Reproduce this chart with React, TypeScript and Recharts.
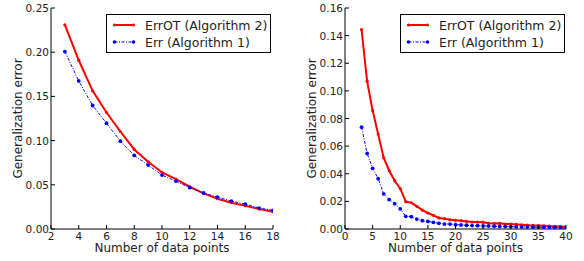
import React from "react";
import { LineChart, Line, XAxis, YAxis } from "recharts";

const nSmall = [3, 4, 5, 6, 7, 8, 9, 10, 11, 12, 13, 14, 15, 16, 17, 18];
const errOTSmall = [0.2308, 0.1909, 0.1563, 0.1318, 0.1103, 0.09, 0.0761, 0.064, 0.0565, 0.0478, 0.0403, 0.0343, 0.0297, 0.0264, 0.0226, 0.0196];
const errSmall = [0.2007, 0.1675, 0.1397, 0.1197, 0.0994, 0.0832, 0.0723, 0.061, 0.0542, 0.0467, 0.0407, 0.0361, 0.0316, 0.0282, 0.0237, 0.0211];

const nLarge = [3, 4, 5, 6, 7, 8, 9, 10, 11, 12, 13, 14, 15, 16, 17, 18, 19, 20, 21, 22, 23, 24, 25, 26, 27, 28, 29, 30, 31, 32, 33, 34, 35, 36, 37, 38, 39, 40];
const errOTLarge = [0.1443, 0.107, 0.0858, 0.0687, 0.0516, 0.0422, 0.0349, 0.0292, 0.0198, 0.019, 0.0164, 0.0137, 0.0116, 0.0099, 0.008, 0.0075, 0.0067, 0.0063, 0.006, 0.0055, 0.005, 0.005, 0.0048, 0.0041, 0.0039, 0.0041, 0.0036, 0.0036, 0.0033, 0.003, 0.0028, 0.0026, 0.0025, 0.0023, 0.0021, 0.002, 0.0018, 0.0016];
const errLarge = [0.0737, 0.0547, 0.0439, 0.0364, 0.0255, 0.0212, 0.0183, 0.0145, 0.0092, 0.0089, 0.0072, 0.006, 0.0055, 0.0048, 0.0041, 0.0036, 0.0036, 0.0031, 0.0029, 0.0027, 0.0025, 0.0024, 0.0022, 0.0021, 0.002, 0.0019, 0.0018, 0.0017, 0.0016, 0.0015, 0.0014, 0.0013, 0.0012, 0.0012, 0.0011, 0.001, 0.0009, 0.0008];

const xTicksSmall = [2, 4, 6, 8, 10, 12, 14, 16, 18];
const yTicksSmall = [0, 0.05, 0.1, 0.15, 0.2, 0.25];
const xTicksLarge = [0, 5, 10, 15, 20, 25, 30, 35, 40];
const yTicksLarge = [0, 0.02, 0.04, 0.06, 0.08, 0.1, 0.12, 0.14, 0.16];

const seriesNames = ["ErrOT (Algorithm 2)", "Err (Algorithm 1)"];
const xLabel = "Number of data points";
const yLabel = "Generalization error";

const FONT = "'DejaVu Sans', sans-serif";
const TICK = 4;
const TEXT = "#222";

const BottomTick = (props: any) => {
  const { x, y, payload } = props;
  return (
    <g>
      <line x1={x} y1={y} x2={x} y2={y - TICK} stroke="#000" strokeWidth={1} />
      <text x={x} y={y + 10.5} textAnchor="middle" fontSize={10.5} fontFamily={FONT} fill={TEXT}>
        {payload.value}
      </text>
    </g>
  );
};
const TopTick = (props: any) => {
  const { x, y } = props;
  return <line x1={x} y1={y} x2={x} y2={y + TICK} stroke="#000" strokeWidth={1} />;
};
const LeftTick = (props: any) => {
  const { x, y, payload } = props;
  return (
    <g>
      <line x1={x} y1={y} x2={x + TICK} y2={y} stroke="#000" strokeWidth={1} />
      <text x={x - 2} y={y + 4} textAnchor="end" fontSize={10.5} fontFamily={FONT} fill={TEXT}>
        {Number(payload.value).toFixed(2)}
      </text>
    </g>
  );
};
const RightTick = (props: any) => {
  const { x, y } = props;
  return <line x1={x} y1={y} x2={x - TICK} y2={y} stroke="#000" strokeWidth={1} />;
};

const YLabel = (props: any) => {
  const { viewBox } = props;
  const cx = viewBox.x + 6.5;
  const cy = viewBox.y + viewBox.height / 2;
  return (
    <text
      x={cx}
      y={cy}
      transform={`rotate(-90 ${cx} ${cy})`}
      textAnchor="middle"
      dominantBaseline="central"
      fontSize={12}
      fontFamily={FONT}
      fill={TEXT}
    >
      {yLabel}
    </text>
  );
};

const XLabel = (props: any) => {
  const { viewBox } = props;
  const cx = viewBox.x + viewBox.width / 2;
  const cy = viewBox.y + 23;
  return (
    <text x={cx} y={cy} textAnchor="middle" fontSize={12} fontFamily={FONT} fill={TEXT}>
      {xLabel}
    </text>
  );
};

const LegendBox = ({ left }: { left: number }) => (
  <div
    style={{
      position: "absolute",
      left,
      top: 14,
      border: "1px solid #000",
      background: "#fff",
      width: 163,
      height: 37,
    }}
  >
    <svg width={163} height={37} style={{ position: "absolute", left: 0, top: 0 }}>
      <line x1={7.5} y1={10} x2={26.5} y2={10} stroke="#ff0000" strokeWidth={2} />
      <circle cx={7.5} cy={10} r={1.6} fill="#ff0000" />
      <circle cx={26.5} cy={10} r={1.6} fill="#ff0000" />
      <line x1={7.5} y1={27} x2={26.5} y2={27} stroke="#0000ff" strokeWidth={1} strokeDasharray="3 1.5 1 1.5" />
      <circle cx={7.5} cy={27} r={1.8} fill="#0000ff" />
      <circle cx={26.5} cy={27} r={1.8} fill="#0000ff" />
      <text x={38} y={14.5} fontSize={12.5} fontFamily={FONT} fill={TEXT}>{seriesNames[0]}</text>
      <text x={38} y={31.5} fontSize={12.5} fontFamily={FONT} fill={TEXT}>{seriesNames[1]}</text>
    </svg>
  </div>
);

type PanelProps = {
  n: number[];
  errOT: number[];
  err: number[];
  xTicks: number[];
  yTicks: number[];
  margin: { top: number; right: number; bottom: number; left: number };
  legendLeft: number;
};

const Panel = ({ n, errOT, err, xTicks, yTicks, margin, legendLeft }: PanelProps) => {
  const data = n.map((v, i) => ({ n: v, errOT: errOT[i], err: err[i] }));
  const xDomain: [number, number] = [xTicks[0], xTicks[xTicks.length - 1]];
  const yDomain: [number, number] = [yTicks[0], yTicks[yTicks.length - 1]];
  return (
    <div style={{ position: "relative", width: 292, height: 261 }}>
      <LineChart width={292} height={261} data={data} margin={margin}>
        <XAxis
          xAxisId="b"
          dataKey="n"
          type="number"
          domain={xDomain}
          ticks={xTicks}
          tickSize={0}
          tickMargin={0}
          tick={<BottomTick />}
          tickLine={false}
          axisLine={{ stroke: "#000", strokeWidth: 1 }}
          height={30}
          interval={0}
          allowDataOverflow
          label={<XLabel />}
        />
        <XAxis
          xAxisId="t"
          orientation="top"
          dataKey="n"
          type="number"
          domain={xDomain}
          ticks={xTicks}
          tickSize={0}
          tickMargin={0}
          tick={<TopTick />}
          tickLine={false}
          axisLine={{ stroke: "#000", strokeWidth: 1 }}
          height={0}
          interval={0}
          allowDataOverflow
        />
        <YAxis
          yAxisId="l"
          type="number"
          domain={yDomain}
          ticks={yTicks}
          tickSize={0}
          tickMargin={0}
          tick={<LeftTick />}
          tickLine={false}
          axisLine={{ stroke: "#000", strokeWidth: 1 }}
          width={40}
          interval={0}
          allowDataOverflow
          label={<YLabel />}
        />
        <YAxis
          yAxisId="r"
          orientation="right"
          type="number"
          domain={yDomain}
          ticks={yTicks}
          tickSize={0}
          tickMargin={0}
          tick={<RightTick />}
          tickLine={false}
          axisLine={{ stroke: "#000", strokeWidth: 1 }}
          width={0}
          interval={0}
          allowDataOverflow
        />
        <Line
          xAxisId="b"
          yAxisId="l"
          dataKey="errOT"
          name={seriesNames[0]}
          stroke="#ff0000"
          strokeWidth={2}
          dot={{ r: 1.6, fill: "#ff0000", stroke: "none" }}
          isAnimationActive={false}
        />
        <Line
          xAxisId="b"
          yAxisId="l"
          dataKey="err"
          name={seriesNames[1]}
          stroke="#0000ff"
          strokeWidth={1}
          strokeDasharray="3 1.5 1 1.5"
          dot={{ r: 1.9, fill: "#0000ff", stroke: "none" }}
          isAnimationActive={false}
        />
      </LineChart>
      <LegendBox left={legendLeft} />
    </div>
  );
};

export default function App() {
  return (
    <div style={{ position: "absolute", left: 0, top: 0, width: 584, height: 261, background: "#fff", display: "flex" }}>
      <Panel
        n={nSmall}
        errOT={errOTSmall}
        err={errSmall}
        xTicks={xTicksSmall}
        yTicks={yTicksSmall}
        margin={{ top: 8, right: 19, bottom: 2, left: 11 }}
        legendLeft={106}
      />
      <Panel
        n={nLarge}
        errOT={errOTLarge}
        err={errLarge}
        xTicks={xTicksLarge}
        yTicks={yTicksLarge}
        margin={{ top: 8, right: 18, bottom: 2, left: 13 }}
        legendLeft={108}
      />
    </div>
  );
}
